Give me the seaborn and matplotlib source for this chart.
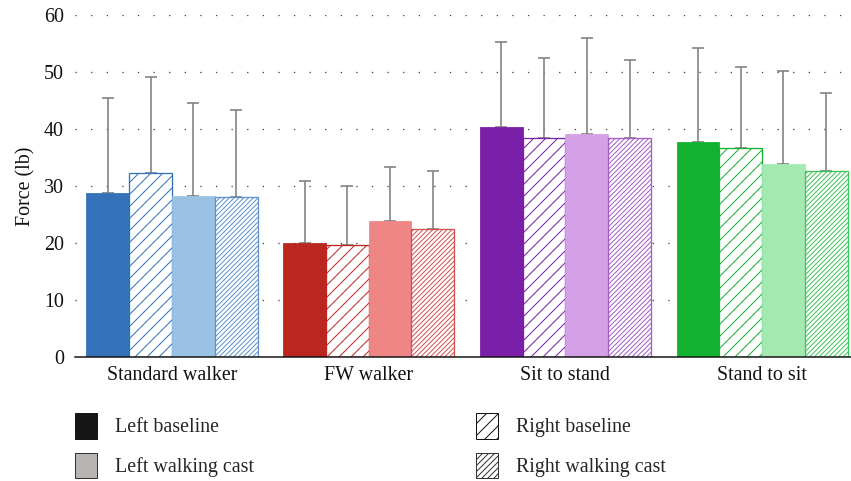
import matplotlib
matplotlib.use("Agg")
import matplotlib.pyplot as plt
from matplotlib.patches import Patch
import seaborn as sns
import pandas as pd
import numpy as np

groups = ["Standard walker", "FW walker", "Sit to stand", "Stand to sit"]
series = ["Left baseline", "Right baseline", "Left walking cast", "Right walking cast"]
left_baseline = [28.7, 20.0, 40.4, 37.8]
right_baseline = [32.3, 19.6, 38.5, 36.6]
left_cast = [28.3, 23.8, 39.1, 33.8]
right_cast = [28.1, 22.4, 38.5, 32.6]
sd_left_baseline = [16.8, 10.8, 14.8, 16.4]
sd_right_baseline = [16.8, 10.4, 13.9, 14.3]
sd_left_cast = [16.3, 9.6, 16.8, 16.4]
sd_right_cast = [15.3, 10.3, 13.6, 13.7]
yticks = [0, 10, 20, 30, 40, 50, 60]

dark = ["#3372b8", "#bb271e", "#7a1fa7", "#12b130"]
light = ["#9ac2e4", "#ee8686", "#d4a0e6", "#a4e9b2"]
mid = ["#5f92cc", "#d25050", "#a35cc4", "#3fc45a"]

values = [left_baseline, right_baseline, left_cast, right_cast]
sds = [sd_left_baseline, sd_right_baseline, sd_left_cast, sd_right_cast]

rows = []
for s, vals in zip(series, values):
    for g, v in zip(groups, vals):
        rows.append({"group": g, "series": s, "value": v})
df = pd.DataFrame(rows)

sns.set_style("white")
plt.rcParams["font.family"] = ["Liberation Serif", "DejaVu Serif"]
plt.rcParams["hatch.linewidth"] = 1.0

DPI = 72
FS = 20
fig = plt.figure(figsize=(851 / DPI, 481 / DPI), dpi=DPI)
ax = fig.add_axes([75 / 851, 1 - 357 / 481, (851 - 75) / 851, (357 - 15) / 481])

sns.barplot(data=df, x="group", y="value", hue="series", order=groups,
            hue_order=series, width=0.87, gap=0, errorbar=None, legend=False,
            ax=ax, zorder=3)

bar_containers = list(ax.containers)
for si, cont in enumerate(bar_containers):
    for gi, bar in enumerate(cont):
        if si == 0:
            bar.set_facecolor(dark[gi]); bar.set_edgecolor(dark[gi]); bar.set_linewidth(0.8)
        elif si == 1:
            bar.set_facecolor("white"); bar.set_edgecolor(dark[gi]); bar.set_hatch("//"); bar.set_linewidth(1.3)
        elif si == 2:
            bar.set_facecolor(light[gi]); bar.set_edgecolor(light[gi]); bar.set_linewidth(0.8)
        else:
            bar.set_facecolor("white"); bar.set_edgecolor(mid[gi]); bar.set_hatch("/////"); bar.set_linewidth(1.3)
        xc = bar.get_x() + bar.get_width() / 2
        h = bar.get_height()
        ax.errorbar([xc], [h], yerr=[[0], [sds[si][gi]]], fmt="none",
                    ecolor="#7f7f7f", elinewidth=1.6, capsize=6, capthick=1.6, zorder=2)

ax.set_xlim(-0.493, 3.452)
ax.set_ylim(0, 60)
ax.set_yticks(yticks)
ax.set_yticklabels([str(t) for t in yticks])
ax.yaxis.grid(True, linestyle=(0, (1, 11)), color="#444444", linewidth=1.3, zorder=0)
ax.set_axisbelow(True)
for sp in ["left", "right", "top"]:
    ax.spines[sp].set_visible(False)
ax.spines["bottom"].set_color("#111111")
ax.spines["bottom"].set_linewidth(1.5)
ax.spines["bottom"].set_zorder(5)
ax.tick_params(axis="both", length=0, labelsize=FS, colors="#111111")
ax.tick_params(axis="x", pad=9)
ax.tick_params(axis="y", pad=11)
ax.set_xlabel("")
ax.set_ylabel("Force (lb)", fontsize=FS, color="#111111")
ax.yaxis.set_label_coords(-0.051, 0.5)

leg_kw = dict(frameon=False, fontsize=FS, loc="upper left", borderpad=0,
              borderaxespad=0, handlelength=1.1, handleheight=1.6,
              handletextpad=0.9, labelspacing=0.7)
h1 = [Patch(facecolor="#161616", edgecolor="#161616", label="Left baseline"),
      Patch(facecolor="#b8b4b2", edgecolor="#333333", label="Left walking cast")]
h2 = [Patch(facecolor="white", edgecolor="#111111", hatch="//", label="Right baseline"),
      Patch(facecolor="white", edgecolor="#333333", hatch="////", label="Right walking cast")]
l1 = fig.legend(handles=h1, bbox_to_anchor=(75 / 851, 1 - 413 / 481), **leg_kw)
l2 = fig.legend(handles=h2, bbox_to_anchor=(476 / 851, 1 - 413 / 481), **leg_kw)

fig.savefig("out.png", dpi=DPI)
